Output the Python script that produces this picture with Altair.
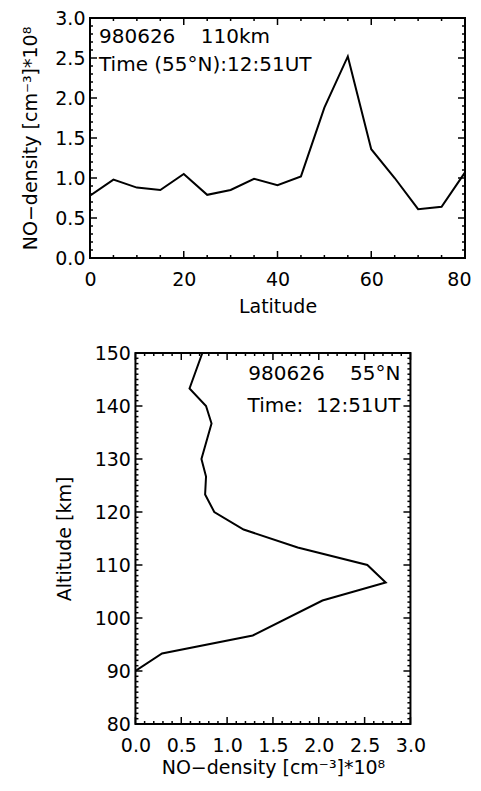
import altair as alt
import numpy as np
import pandas as pd

# ---- data ----
latitude = [0, 5, 10, 15, 20, 25, 30, 35, 40, 45, 50, 55, 60, 65, 70, 75, 80]
dens_110km = [0.78, 0.98, 0.88, 0.85, 1.05, 0.79, 0.85, 0.99, 0.91, 1.02,
              1.88, 2.52, 1.36, 1.00, 0.61, 0.64, 1.07]

altitude = [150, 143.3, 140, 136.7, 130, 126.7, 123.3, 120, 116.7, 113.3,
            110, 106.7, 103.3, 96.7, 93.3, 90]
dens_55N = [0.73, 0.59, 0.77, 0.83, 0.72, 0.77, 0.76, 0.86, 1.18, 1.77,
            2.53, 2.73, 2.04, 1.28, 0.29, 0.0]

NB = "\u00a0"
top_text = ["980626" + NB * 4 + "110km", "Time" + NB + "(55°N):12:51UT"]
bot_text = ["980626" + NB * 4 + "55°N", "Time:" + NB * 2 + "12:51UT"]

top_x_labels = [0, 20, 40, 60, 80]
top_y_labels = [0.0, 0.5, 1.0, 1.5, 2.0, 2.5, 3.0]
bot_x_labels = [0.0, 0.5, 1.0, 1.5, 2.0, 2.5, 3.0]
bot_y_labels = [80, 90, 100, 110, 120, 130, 140, 150]

top_x_minor = [float(v) for v in range(0, 81, 5) if v % 20]
top_y_minor = [round(float(v), 2) for v in np.arange(0, 3.01, 0.1) if round(v * 10) % 5]
bot_x_minor = [round(float(v), 3) for v in np.arange(0, 3.001, 0.1) if round(v * 10) % 5]
bot_y_minor = [round(float(v), 2) for v in np.arange(80, 150.01, 1.0) if round(v) % 10]

FONT = "DejaVu Sans"
FS = 19
TOP_W, TOP_H = 375, 240
BOT_W, BOT_H = 275, 371
DENS_TITLE = "NO\u2212density [cm\u207b\u00b3]*10\u2078"
MAJOR_LEN, MINOR_LEN = 7, 3


def axis(title, values, fmt, label_pad, title_pad, flush=False):
    kw = dict(labelFlush=True, labelFlushOffset=6) if flush else dict(labelFlush=False)
    return alt.Axis(title=title, values=values, format=fmt,
                    labelPadding=label_pad, titlePadding=title_pad, **kw)


def tick_frame(xmaj, xmin, ymaj, ymin, xdom, ydom, W, H):
    """Inward box ticks on all four sides, expressed in data units."""
    rows = []
    ux = (xdom[1] - xdom[0]) / W
    uy = (ydom[1] - ydom[0]) / H
    for vals, ln in ((xmaj, MAJOR_LEN), (xmin, MINOR_LEN)):
        for v in vals:
            rows.append((v, ydom[0], v, ydom[0] + ln * uy))
            rows.append((v, ydom[1], v, ydom[1] - ln * uy))
    for vals, ln in ((ymaj, MAJOR_LEN), (ymin, MINOR_LEN)):
        for v in vals:
            rows.append((xdom[0], v, xdom[0] + ln * ux, v))
            rows.append((xdom[1], v, xdom[1] - ln * ux, v))
    return pd.DataFrame(rows, columns=["x", "y", "x2", "y2"])


def text_layer(s, x, y, align):
    return alt.Chart(pd.DataFrame({"t": [s]})).mark_text(
        font=FONT, fontSize=FS + 1, align=align, baseline="alphabetic", color="black"
    ).encode(text="t:N", x=alt.value(x), y=alt.value(y))


def panel(df, xf, yf, xdom, ydom, xax, yax, ticks_df, W, H, extra, ordered=False):
    xs = alt.Scale(domain=xdom, nice=False, zero=False)
    ys = alt.Scale(domain=ydom, nice=False, zero=False)
    enc = dict(x=alt.X(f"{xf}:Q", scale=xs, axis=xax),
               y=alt.Y(f"{yf}:Q", scale=ys, axis=yax))
    if ordered:
        enc["order"] = alt.Order("order:Q")
    line = alt.Chart(df).mark_line(color="black", strokeWidth=2, clip=True).encode(**enc)
    rules = alt.Chart(ticks_df).mark_rule(color="black", strokeWidth=1.5).encode(
        x=alt.X("x:Q", scale=xs, axis=xax),
        y=alt.Y("y:Q", scale=ys, axis=yax),
        x2="x2:Q",
        y2="y2:Q",
    )
    return alt.layer(line, rules, *extra).properties(width=W, height=H)


# ---- top panel ----
top_dom_x, top_dom_y = [0, 80], [0, 3]
top = panel(
    pd.DataFrame({"lat": latitude, "dens": dens_110km}), "lat", "dens",
    top_dom_x, top_dom_y,
    axis("Latitude", top_x_labels, "d", 12, 8, flush=True),
    axis(DENS_TITLE, top_y_labels, ".1f", 5, 14),
    tick_frame(top_x_labels, top_x_minor, top_y_labels, top_y_minor,
               top_dom_x, top_dom_y, TOP_W, TOP_H),
    TOP_W, TOP_H,
    [text_layer(top_text[0], 9, 25, "left"), text_layer(top_text[1], 9, 53, "left")],
)

# invisible layout spacer that widens the lower panel's left margin
spacer = alt.Chart(pd.DataFrame({"s": [0]})).mark_rule(opacity=0, strokeOpacity=0).encode(
    x=alt.value(-97), x2=alt.value(-86), y=alt.value(BOT_H / 2)
)

# ---- bottom panel ----
bot_dom_x, bot_dom_y = [0, 3], [80, 150]
bot = panel(
    pd.DataFrame({"alt": altitude, "dens": dens_55N, "order": list(range(len(altitude)))}),
    "dens", "alt",
    bot_dom_x, bot_dom_y,
    axis(DENS_TITLE, bot_x_labels, ".1f", 12, 3),
    axis("Altitude [km]", bot_y_labels, "d", 5, 20),
    tick_frame(bot_x_labels, bot_x_minor, bot_y_labels, bot_y_minor,
               bot_dom_x, bot_dom_y, BOT_W, BOT_H),
    BOT_W, BOT_H,
    [text_layer(bot_text[0], BOT_W - 10, 27, "right"),
     text_layer(bot_text[1], BOT_W - 10, 59, "right"),
     spacer],
    ordered=True,
)

chart = alt.vconcat(top, bot, spacing=26, center=True).properties(
    padding={"left": 12, "top": 0, "right": 0, "bottom": 0}
).configure_view(stroke="black", strokeWidth=2).configure_axis(
    labelFont=FONT, labelFontSize=FS, labelColor="black",
    titleFont=FONT, titleFontSize=FS, titleFontWeight="normal", titleColor="black",
    ticks=False, domain=False, grid=False,
)

chart.save("out.html", embed_options={"renderer": "svg", "actions": False})
